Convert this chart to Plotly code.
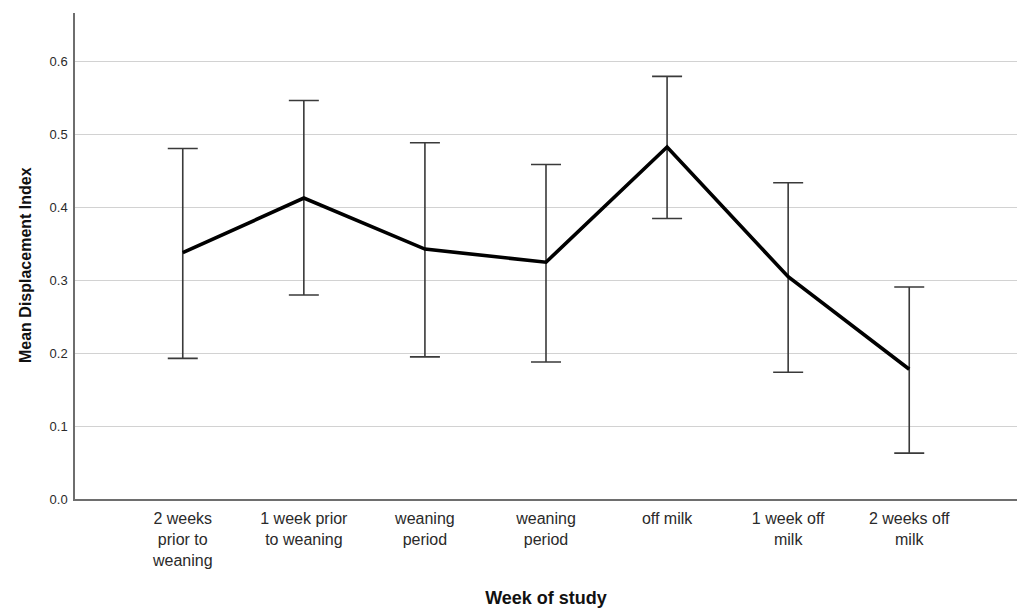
import plotly.graph_objects as go

# Study weeks (x positions) and their axis labels
weeks = [0, 1, 2, 3, 4, 5, 6]
week_labels = [
    "2 weeks<br>prior to<br>weaning",
    "1 week prior<br>to weaning",
    "weaning<br>period",
    "weaning<br>period",
    "off milk",
    "1 week off<br>milk",
    "2 weeks off<br>milk",
]

# Mean displacement index with confidence interval bounds
mean_index = [0.338, 0.413, 0.343, 0.325, 0.483, 0.305, 0.178]
ci_upper = [0.481, 0.547, 0.489, 0.459, 0.580, 0.434, 0.291]
ci_lower = [0.193, 0.280, 0.195, 0.188, 0.385, 0.174, 0.063]

err_plus = [u - m for u, m in zip(ci_upper, mean_index)]
err_minus = [m - l for m, l in zip(mean_index, ci_lower)]

font_family = "Liberation Sans, Arial, sans-serif"

fig = go.Figure()

# Error bars drawn first so the mean line sits on top
fig.add_trace(go.Scatter(
    x=weeks,
    y=mean_index,
    mode="markers",
    marker=dict(size=1, opacity=0),
    error_y=dict(
        type="data",
        symmetric=False,
        array=err_plus,
        arrayminus=err_minus,
        color="#3a3a3a",
        thickness=1.6,
        width=15,
    ),
    hoverinfo="skip",
    showlegend=False,
))

fig.add_trace(go.Scatter(
    x=weeks,
    y=mean_index,
    mode="lines",
    line=dict(color="#000000", width=3.6),
    showlegend=False,
))

fig.update_layout(
    width=1021,
    height=608,
    margin=dict(l=75, r=4, t=13, b=109),
    paper_bgcolor="white",
    plot_bgcolor="white",
    font=dict(family=font_family, color="#222222"),
    annotations=[
        dict(
            text="<b>Mean Displacement Index</b>",
            xref="paper", yref="paper",
            x=0, y=0.5,
            xshift=-50, yshift=-9,
            xanchor="center", yanchor="middle",
            textangle=-90,
            showarrow=False,
            font=dict(size=16, color="#111111"),
        )
    ],
)

fig.update_xaxes(
    range=[-0.89, 6.89],
    tickmode="array",
    tickvals=weeks,
    ticktext=week_labels,
    tickfont=dict(size=16, color="#2a2a2a"),
    ticks="",
    ticklabelstandoff=4,
    showgrid=False,
    zeroline=False,
    showline=True,
    linecolor="#6e6e6e",
    linewidth=1.5,
    title=dict(
        text="<b>Week of study</b>",
        font=dict(size=18, color="#111111"),
        standoff=24,
    ),
)

fig.update_yaxes(
    range=[0, 0.667],
    tickmode="array",
    tickvals=[0, 0.1, 0.2, 0.3, 0.4, 0.5, 0.6],
    tickformat=".1f",
    tickfont=dict(size=13, color="#2a2a2a"),
    ticks="",
    ticklabelstandoff=3,
    showgrid=True,
    gridcolor="#d2d2d2",
    gridwidth=1.2,
    zeroline=False,
    showline=True,
    linecolor="#6e6e6e",
    linewidth=1.5,
)

fig.write_html("out.html")
